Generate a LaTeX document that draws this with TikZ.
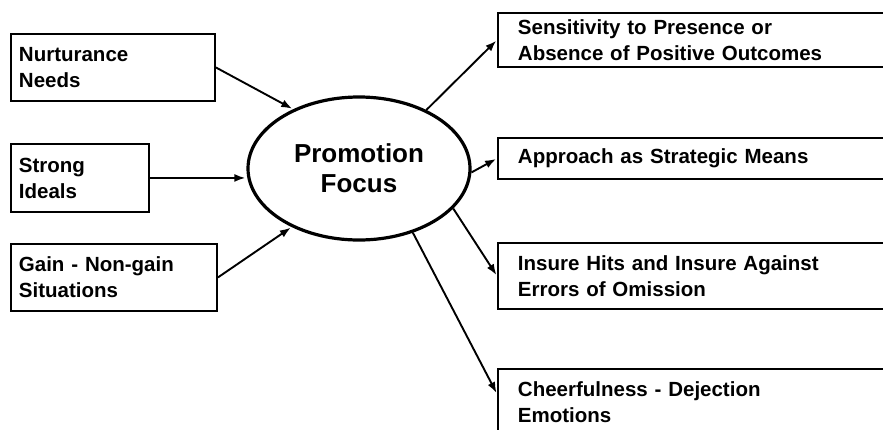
\documentclass[tikz,border=0pt]{standalone}
\usepackage{fontspec}
\setmainfont{Liberation Sans}
\usetikzlibrary{positioning,shapes,arrows.meta}

\begin{document}
\begin{tikzpicture}[
        x=1pt, y=-1pt,
        shorten >=1pt,
        >={Latex[length=11pt,width=8pt]},
        arrow/.style={line width=1.9pt},
        box/.style={draw, line width=1.9pt, anchor=north west, align=left, inner xsep=8pt, font=\fontsize{20.5}{26}\selectfont\bfseries},
        outbox/.style={box, inner xsep=20pt, text width=380pt},
        focus/.style={draw, ellipse, line width=3.2pt, align=center, minimum width=222pt, minimum height=143pt, font=\fontsize{26}{30}\selectfont\bfseries}
      ]
      \useasboundingbox (0,0) rectangle (883,429);
      \clip (0,0) rectangle (883,429);

      % antecedents
      \node (NN) [box, text width=188pt, minimum height=67pt] at (10,33) {Nurturance\\Needs};
      \node (SI) [box, text width=122pt, minimum height=68pt] at (10,143) {Strong\\Ideals};
      \node (GN) [box, text width=190pt, minimum height=67pt] at (10,243) {Gain - Non-gain\\Situations};

      \node (PF) [focus] at (359,168.5) {Promotion\\Focus};

      % consequences, running off the right edge
      \node (S1) [outbox, minimum height=54pt] at (497,12) {Sensitivity to Presence or\\Absence of Positive Outcomes};
      \node (S2) [outbox, minimum height=41pt] at (497,137) {Approach as Strategic Means};
      \node (S3) [outbox, minimum height=66pt] at (497,242) {Insure Hits and Insure Against\\Errors of Omission};
      \node (S4) [outbox, minimum height=66pt] at (497,368) {Cheerfulness - Dejection\\Emotions};

      \path[->] (NN.east) edge[arrow] (PF.138);
      \path[->] (SI.east) edge[arrow] (SI.east -| PF.west);
      \path[->] (GN.east) edge[arrow] (PF.221);

      \path[->] (PF.41) edge[arrow] (S1.west);
      \path[->] (PF.-2) edge[arrow] (S2.west);
      \path[->] (PF.-23) edge[arrow] (S3.west);
      \path[->] (PF.-50) edge[arrow] ([yshift=8pt]S4.west);

    \end{tikzpicture}
\end{document}
